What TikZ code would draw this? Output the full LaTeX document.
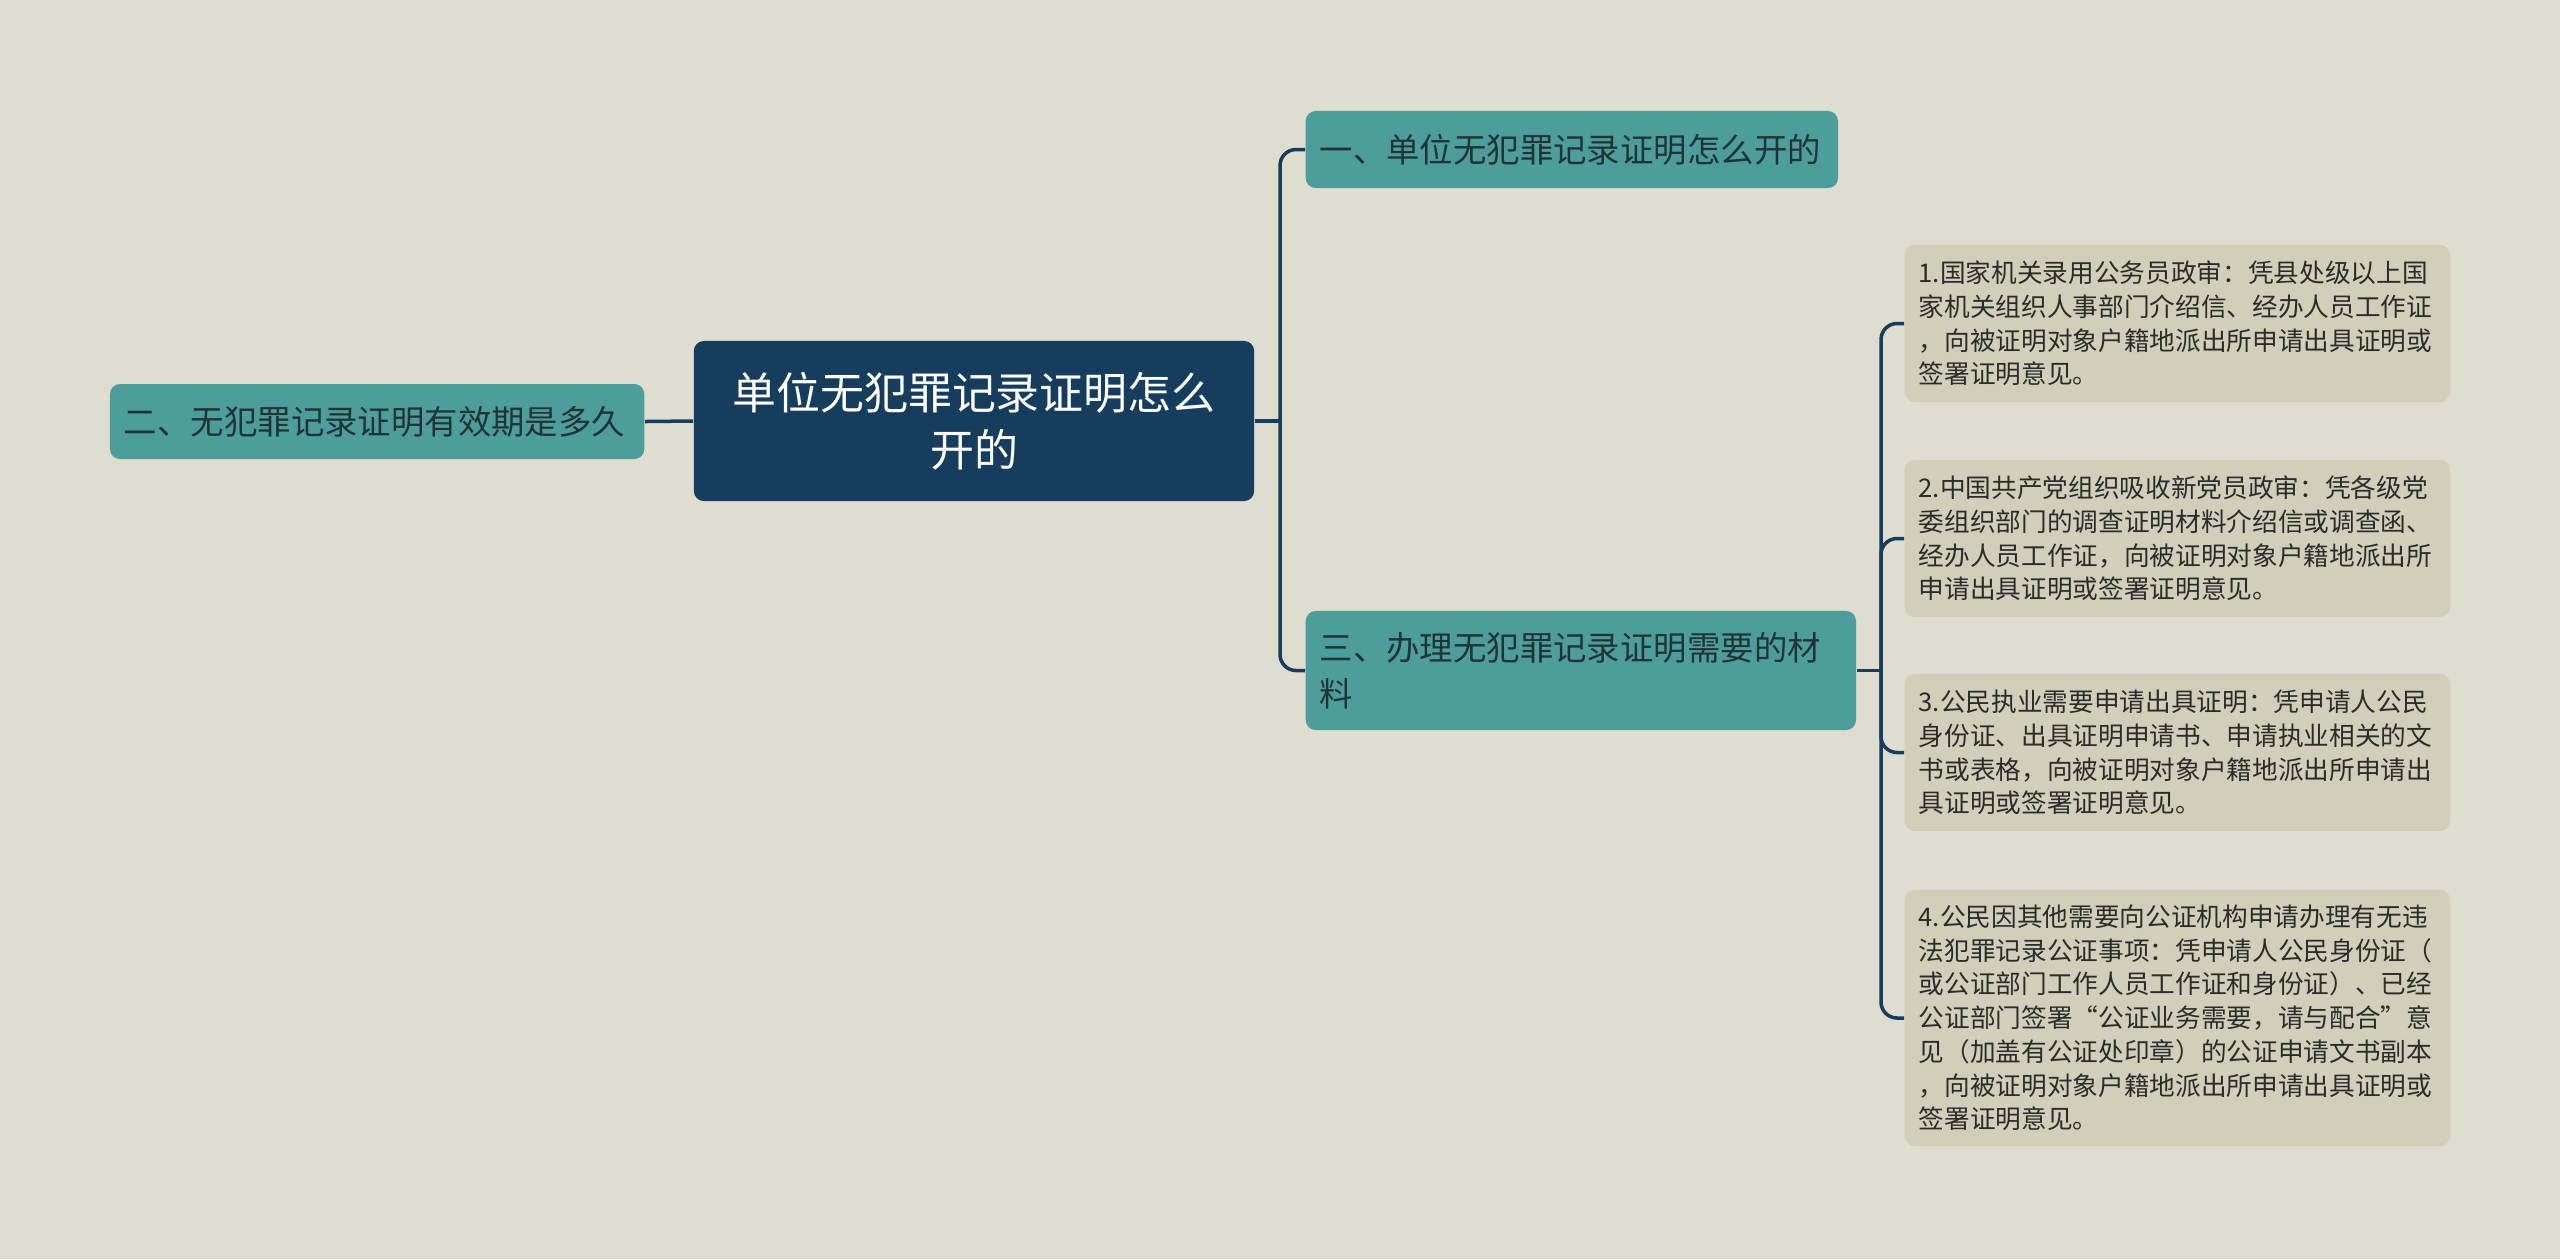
\documentclass[tikz,border=0pt]{standalone}
\usepackage{fontspec}
\setmainfont{Noto Sans CJK SC}
\usepackage{xcolor}
\definecolor{bgcol}{HTML}{DFDDD0}
\definecolor{rootcol}{HTML}{173D5E}
\definecolor{branchcol}{HTML}{4E9D9D}
\definecolor{branchtxt}{HTML}{1F3535}
\definecolor{leafcol}{HTML}{D1CFB9}
\definecolor{leaftxt}{HTML}{2B2B2B}
\definecolor{linkcol}{HTML}{173D5E}

\tikzset{
  root/.style={fill=rootcol,rounded corners=0.1cm,text=white,align=center,
    minimum width=5.6cm,minimum height=1.6cm,font=\fontsize{12.5}{16.2}\selectfont},
  branch/.style={fill=branchcol,rounded corners=0.1cm,text=branchtxt,align=left,
    anchor=west,inner xsep=0.14cm,inner ysep=0pt,font=\fontsize{9.5}{13}\selectfont},
  leaf/.style={fill=leafcol,rounded corners=0.1cm,text=leaftxt,align=left,anchor=west,
    text width=5.17cm,inner xsep=0.14cm,inner ysep=0pt,minimum height=1.57cm,
    font=\fontsize{7.3}{9.6}\selectfont},
  link/.style={draw=linkcol,line width=0.035cm,rounded corners=0.16cm}
}

\begin{document}
\begin{tikzpicture}[x=0.01cm,y=-0.01cm]
  \useasboundingbox (0,0) rectangle (2560,1259);
  \fill[bgcol] (0,0) rectangle (2560,1259);

  \node[root] (root) at (974,421) {单位无犯罪记录证明怎么\\开的};
  \node[branch,text width=5.04cm,minimum height=0.77cm] (b1) at (1305,149.5) {一、单位无犯罪记录证明怎么开的};
  \node[branch,text width=5.06cm,minimum height=0.75cm,anchor=east] (b2) at (645,421.5) {二、无犯罪记录证明有效期是多久};
  \node[branch,text width=5.22cm,minimum height=1.19cm] (b3) at (1305,670.5) {三、办理无犯罪记录证明需要的材\\料};

  \node[leaf] (l1) at (1904,323.5) {1.国家机关录用公务员政审：凭县处级以上国\\家机关组织人事部门介绍信、经办人员工作证\\，向被证明对象户籍地派出所申请出具证明或\\签署证明意见。};
  \node[leaf] (l2) at (1904,538.5) {2.中国共产党组织吸收新党员政审：凭各级党\\委组织部门的调查证明材料介绍信或调查函、\\经办人员工作证，向被证明对象户籍地派出所\\申请出具证明或签署证明意见。};
  \node[leaf] (l3) at (1904,752.5) {3.公民执业需要申请出具证明：凭申请人公民\\身份证、出具证明申请书、申请执业相关的文\\书或表格，向被证明对象户籍地派出所申请出\\具证明或签署证明意见。};
  \node[leaf,minimum height=2.56cm] (l4) at (1904,1018) {4.公民因其他需要向公证机构申请办理有无违\\法犯罪记录公证事项：凭申请人公民身份证（\\或公证部门工作人员工作证和身份证）、已经\\公证部门签署“公证业务需要，请与配合”意\\见（加盖有公证处印章）的公证申请文书副本\\，向被证明对象户籍地派出所申请出具证明或\\签署证明意见。};

  \coordinate (t1) at (1280,421);
  \coordinate (t2) at (1881,670.5);
  \draw[link] (root.east) -- (t1);
  \draw[link] (t1) |- (b1.west);
  \draw[link] (t1) |- (b3.west);
  \draw[link] (root.west) -- (b2.east);
  \draw[link] (b3.east) -- (t2);
  \foreach \n in {l1,l2,l3,l4}
    \draw[link] (t2) |- (\n.west);
\end{tikzpicture}
\end{document}
